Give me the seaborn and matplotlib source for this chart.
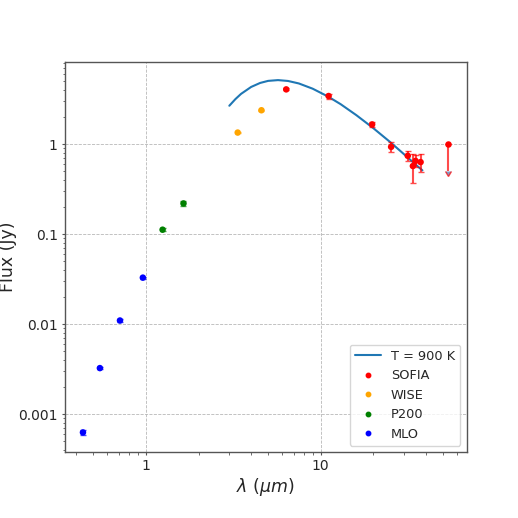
import numpy as np
import pandas as pd
import seaborn as sns
import matplotlib
matplotlib.use("Agg")
import matplotlib.pyplot as plt
from matplotlib.lines import Line2D
from matplotlib.ticker import FuncFormatter, NullFormatter, LogLocator

# photometry (wavelength in um, flux in Jy)
mlo_lam = [0.436, 0.545, 0.71, 0.96]
mlo_flux = [0.00063, 0.00326, 0.011, 0.0329]
mlo_err = [0.00004, 0.0001, 0.0003, 0.0008]

p200_lam = [1.245, 1.64]
p200_flux = [0.112, 0.219]
p200_err = [0.004, 0.016]

wise_lam = [3.35, 4.58]
wise_flux = [1.34, 2.37]
wise_err = [0.02, 0.03]

sofia_lam = [6.35, 11.1, 19.7, 25.3, 31.5, 33.7, 34.9, 37.3]
sofia_flux = [4.04, 3.41, 1.65, 0.93, 0.74, 0.57, 0.65, 0.63]
sofia_err = [0.1, 0.22, 0.1, 0.12, 0.1, 0.2, 0.1, 0.14]

# upper limit
ul_lam = [53.7]
ul_flux = [1.0]
ul_err = [0.5]

# blackbody curve, T = 900 K, sampled off the figure
bb_lam = [3.0, 3.25, 3.5, 4.0, 4.5, 5.0, 5.7, 6.5, 7.5, 9.0, 11.0, 13.0, 16.0,
          20.0, 25.0, 30.0, 35.0, 38.2]
bb_flux = [2.66, 3.15, 3.60, 4.30, 4.76, 5.02, 5.12, 5.01, 4.70, 4.11, 3.37,
           2.77, 2.09, 1.50, 1.05, 0.77, 0.59, 0.51]

instruments = ["SOFIA", "WISE", "P200", "MLO"]
colors = {"SOFIA": "red", "WISE": "orange", "P200": "green", "MLO": "blue"}

phot = pd.concat([
    pd.DataFrame({"lam": sofia_lam, "flux": sofia_flux, "err": sofia_err, "inst": "SOFIA"}),
    pd.DataFrame({"lam": wise_lam, "flux": wise_flux, "err": wise_err, "inst": "WISE"}),
    pd.DataFrame({"lam": p200_lam, "flux": p200_flux, "err": p200_err, "inst": "P200"}),
    pd.DataFrame({"lam": mlo_lam, "flux": mlo_flux, "err": mlo_err, "inst": "MLO"}),
], ignore_index=True)
bb = pd.DataFrame({"lam": bb_lam, "flux": bb_flux})

sns.set_theme(style="ticks")
plt.rcParams["font.family"] = ["DejaVu Sans"]

fig = plt.figure(figsize=(5.18, 5.18), dpi=100)
ax = fig.add_axes([0.125, 0.127, 0.776, 0.753])

sns.lineplot(data=bb, x="lam", y="flux", ax=ax, color="#1f77b4", lw=1.5)

for inst in instruments:
    d = phot[phot.inst == inst]
    ax.errorbar(d.lam, d.flux, yerr=d.err, fmt="none", ecolor=colors[inst],
                alpha=0.7, elinewidth=1.5, capsize=2.5, capthick=1, zorder=2)
ax.errorbar(ul_lam, ul_flux, yerr=ul_err, uplims=True, fmt="none", ecolor="red",
            alpha=0.7, elinewidth=1.5, capsize=2.5, zorder=2)

sns.scatterplot(data=phot, x="lam", y="flux", hue="inst", palette=colors,
                s=22, linewidth=0, legend=False, ax=ax, zorder=3)
sns.scatterplot(x=ul_lam, y=ul_flux, color="red", s=22, linewidth=0, ax=ax, zorder=3)

ax.set_xscale("log")
ax.set_yscale("log")
ax.set_xlim(0.343, 68.5)
ax.set_ylim(3.8e-4, 8.1)

fmt = FuncFormatter(lambda v, p: "{:g}".format(v))
ax.xaxis.set_major_formatter(fmt)
ax.yaxis.set_major_formatter(fmt)
ax.xaxis.set_minor_formatter(NullFormatter())
ax.yaxis.set_minor_formatter(NullFormatter())
ax.yaxis.set_minor_locator(LogLocator(base=10, subs=np.arange(2, 10)))

ax.grid(True, which="major", ls="--", lw=0.6, color="#b8b8b8")
for sp in ax.spines.values():
    sp.set_color("#555555")
    sp.set_linewidth(1.0)
ax.tick_params(which="major", length=2.5, width=0.8, color="#555555",
               labelsize=10, pad=2.5)
ax.tick_params(which="minor", length=1.8, width=0.6, color="#555555")

ax.set_xlabel(r"$\lambda$ ($\mu m$)", fontsize=12.5, labelpad=2)
ax.set_ylabel("Flux (Jy)", fontsize=12.5, labelpad=1)

handles = [Line2D([], [], color="#1f77b4", lw=1.5)]
handles += [Line2D([], [], ls="", marker="o", ms=3.2, color=colors[i]) for i in instruments]
ax.legend(handles, ["T = 900 K"] + instruments, loc="lower right", fontsize=9.3,
          frameon=True)

fig.savefig("out.png", dpi=100)
